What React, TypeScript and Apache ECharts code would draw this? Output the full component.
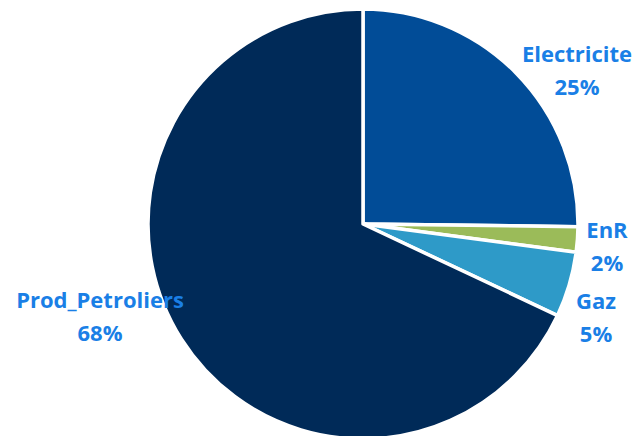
import React, { useEffect, useRef } from "react";
import * as echarts from "echarts";

const categories = ["Electricite", "EnR", "Gaz", "Prod_Petroliers"];
const values = [25.2, 1.9, 4.9, 68.0];
const colors = ["#014C97", "#9BBB59", "#2E9AC8", "#002A58"];
const labelCenters: [number, number][] = [
  [577, 69],
  [607, 245],
  [596, 316],
  [100, 315],
];

export default function App() {
  const ref = useRef<HTMLDivElement>(null);
  useEffect(() => {
    if (!ref.current) return;
    const chart = echarts.init(ref.current, undefined, { renderer: "svg" });
    chart.setOption({
      animation: false,
      backgroundColor: "#ffffff",
      series: [
        {
          type: "pie",
          center: [363, 224],
          radius: 215,
          startAngle: 90,
          clockwise: true,
          avoidLabelOverlap: false,
          data: categories.map((name, i) => ({
            name,
            value: values[i],
            itemStyle: { color: colors[i] },
          })),
          itemStyle: { borderColor: "#ffffff", borderWidth: 3.5 },
          label: {
            show: true,
            position: "outside",
            formatter: (p: any) => `${p.name}\n${Math.round(p.percent)}%`,
            color: "#1A7FE6",
            fontFamily: "'Open Sans', sans-serif",
            fontWeight: "bold",
            fontSize: 22,
            lineHeight: 33,
            align: "center",
          },
          labelLine: { show: false },
          labelLayout: (params: any) => {
            const c = labelCenters[params.dataIndex];
            return { x: c[0], y: c[1], align: "center", verticalAlign: "middle" };
          },
        },
      ],
    });
    return () => chart.dispose();
  }, []);
  return (
    <div
      ref={ref}
      style={{ position: "fixed", left: 0, top: 0, width: 633, height: 436 }}
    />
  );
}
